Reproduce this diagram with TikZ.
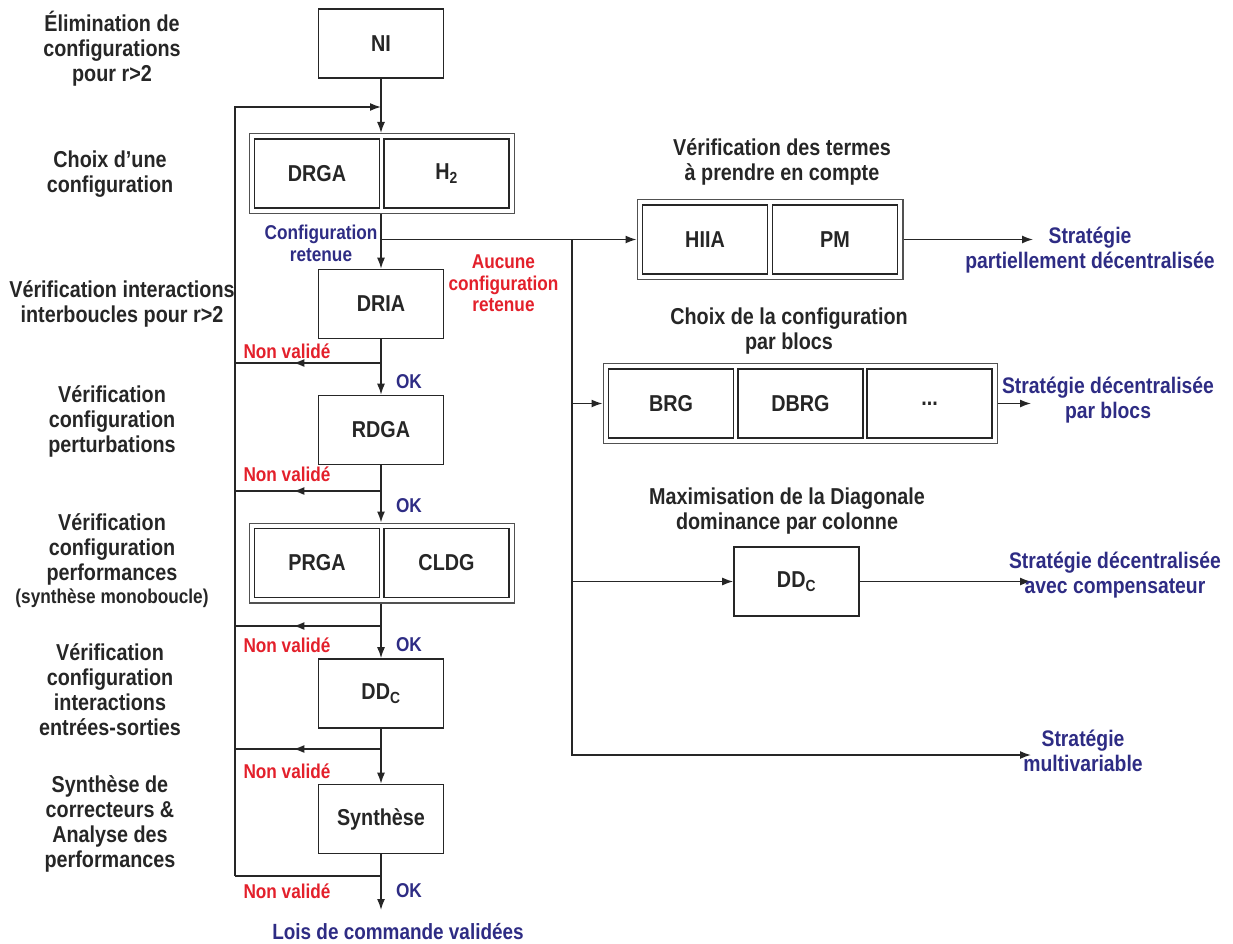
\documentclass[tikz,border=0pt]{standalone}
\usepackage{fontspec}
\setmainfont{Liberation Sans}[FakeStretch=0.86]
\usetikzlibrary{arrows.meta,fit,decorations.markings}
\definecolor{encre}{HTML}{262626}
\definecolor{bleu}{HTML}{2E2C84}
\definecolor{rouge}{HTML}{E3202B}
\tikzset{
  pointe/.tip={Latex[length=11pt,width=8pt]},
  ligne/.style={draw=encre,line width=1.5pt},
  fleche/.style={ligne,-pointe},
  retour/.style={ligne,postaction={decorate},
    decoration={markings,mark=at position 0.6 with {\arrow{pointe}}}},
  bloc/.style={draw=encre,line width=1.6pt,minimum width=125pt,minimum height=69pt,
    inner sep=0pt,text=encre,font=\fontsize{23}{25}\selectfont\bfseries},
  cadre/.style={draw=encre!80,line width=1.4pt,inner sep=4.5pt},
  etape/.style={align=center,text=encre,font=\fontsize{23}{25}\selectfont\bfseries},
  titre/.style={etape},
  strat/.style={align=center,text=bleu,font=\fontsize{22.5}{25}\selectfont\bfseries},
  oui/.style={text=bleu,font=\fontsize{20}{22}\selectfont\bfseries},
  non/.style={align=center,text=rouge,font=\fontsize{20}{21.5}\selectfont\bfseries}
}
\begin{document}
\begin{tikzpicture}[x=1pt,y=-1pt]
\useasboundingbox (0,0) rectangle (1233,944) ;
% etapes a gauche
\node[etape] (e1) at (112,49) {Élimination de\\configurations\\pour r>2} ;
\node[etape] (e2) at (110,174.5) {Choix d’une\\configuration} ;
\node[etape] (e3) at (122,303.5) {Vérification interactions\\interboucles pour r>2} ;
\node[etape] (e4) at (112,421) {Vérification\\configuration\\perturbations} ;
\node[etape] (e5) at (112,549) {Vérification\\configuration\\performances} ;
\node[etape,font=\fontsize{20}{22}\selectfont\bfseries] (e5b) at (112,598) {(synthèse monoboucle)} ;
\node[etape] (e6) at (110,690) {Vérification\\configuration\\interactions\\entrées-sorties} ;
\node[etape] (e7) at (110,824) {Synthèse de\\correcteurs \&\\Analyse des\\performances} ;
% colonne principale
\node[bloc] (ni) at (381,43.5) {NI} ;
\node[bloc] (drga) at (317,173.5) {DRGA} ;
\node[bloc] (h2) at (446.5,173.5) {H\textsubscript{2}} ;
\node[cadre,fit=(drga)(h2)] (choix) {} ;
\node[bloc] (dria) at (381,304) {DRIA} ;
\node[bloc] (rdga) at (381,430) {RDGA} ;
\node[bloc] (prga) at (317,563) {PRGA} ;
\node[bloc] (cldg) at (446.5,563) {CLDG} ;
\node[cadre,fit=(prga)(cldg)] (perf) {} ;
\node[bloc] (ddc) at (381,693.5) {DD\textsubscript{C}} ;
\node[bloc] (synth) at (381,819) {Synthèse} ;
\coordinate (fin) at (381,910) ;
\node[strat,font=\fontsize{22}{24}\selectfont\bfseries] (lois) at (398,932) {Lois de commande validées} ;
% boucle de retour
\coordinate (gtop) at (235,107) ;
\coordinate (gbas) at (235,876) ;
\draw[fleche] (ni) -- (ni |- choix.north) ;
\draw[fleche] (gbas) -- (gtop) -- (gtop -| ni) ;
\draw[fleche] (choix.south -| ni) -- (dria) ;
\draw[fleche] (dria) -- (rdga) ;
\draw[fleche] (rdga) -- (rdga |- perf.north) ;
\draw[fleche] (perf.south -| ddc) -- (ddc) ;
\draw[fleche] (ddc) -- (synth) ;
\draw[fleche] (synth) -- (fin) ;
\foreach \y in {363,491,626,749}
  \draw[retour] (ni |- 0,\y) -- (gtop |- 0,\y) ;
\draw[ligne] (ni |- gbas) -- (gbas) ;
\foreach \y in {351,474,645,771,891}
  \node[non] at (287,\y) {Non validé} ;
\foreach \y in {382,506,645,891}
  \node[oui] at (409,\y) {OK} ;
\node[oui,align=center] at (321,243.5) {Configuration\\retenue} ;
\node[non] at (503.5,283.5) {Aucune\\configuration\\retenue} ;
% strategies a droite
\node[bloc] (hiia) at (705,239.5) {HIIA} ;
\node[bloc] (pm) at (835,239.5) {PM} ;
\node[cadre,fit=(hiia)(pm)] (termes) {} ;
\node[titre] at (782,162) {Vérification des termes\\à prendre en compte} ;
\node[bloc] (brg) at (671,403.5) {BRG} ;
\node[bloc] (dbrg) at (800.5,403.5) {DBRG} ;
\node[bloc] (etc) at (929.5,403.5) {...} ;
\node[cadre,fit=(brg)(etc)] (blocs) {} ;
\node[titre] at (789,331.5) {Choix de la configuration\\par blocs} ;
\node[bloc] (ddcol) at (796.5,581.5) {DD\textsubscript{C}} ;
\node[titre] at (787,511.5) {Maximisation de la Diagonale\\dominance par colonne} ;
\coordinate (b0) at (ni |- termes.west) ;
\coordinate (v) at (572,239.5) ;
\coordinate (vbas) at (572,755) ;
\coordinate (s1) at (1033,239.5) ;
\coordinate (s2) at (1031,403.5) ;
\coordinate (s3) at (1031,581.5) ;
\coordinate (s4) at (1031,755) ;
\draw[fleche] (b0) -- (termes.west) ;
\draw[fleche] (v) -- (vbas) -- (s4) ;
\draw[fleche] (v |- blocs.west) -- (blocs.west) ;
\draw[fleche] (v |- ddcol) -- (ddcol) ;
\draw[fleche] (termes.east) -- (s1) ;
\draw[fleche] (blocs.east) -- (s2) ;
\draw[fleche] (ddcol) -- (s3) ;
\node[strat] at (1090,250.5) {Stratégie\\partiellement décentralisée} ;
\node[strat] at (1108,400.5) {Stratégie décentralisée\\par blocs} ;
\node[strat] at (1115,575.5) {Stratégie décentralisée\\avec compensateur} ;
\node[strat] at (1083,751) {Stratégie\\multivariable} ;
\end{tikzpicture}
\end{document}
